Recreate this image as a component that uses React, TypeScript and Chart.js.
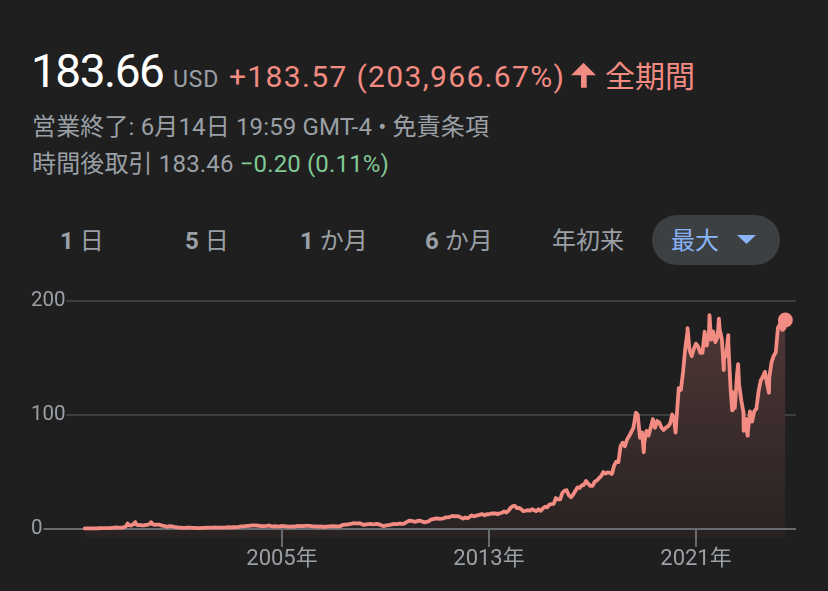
import React, { useEffect, useRef } from "react";
import { Chart, registerables } from "chart.js";

Chart.register(...registerables);

// ---- data (split-adjusted closes) ----
const dates: string[] = [
  "1997-05-15", "1997-06", "1997-07", "1997-08", "1997-09", "1997-10", "1997-11", "1997-12",
  "1998-01", "1998-02", "1998-03", "1998-04", "1998-05", "1998-06", "1998-07", "1998-08", "1998-09", "1998-10", "1998-11", "1998-12",
  "1999-01-11", "1999-01", "1999-02", "1999-03", "1999-04-26", "1999-04", "1999-05", "1999-06", "1999-07", "1999-08", "1999-09", "1999-10", "1999-11", "1999-12-09", "1999-12",
  "2000-01", "2000-02", "2000-03", "2000-04", "2000-05", "2000-06", "2000-07", "2000-08", "2000-09", "2000-10", "2000-11", "2000-12",
  "2001-01", "2001-02", "2001-03", "2001-04", "2001-05", "2001-06", "2001-07", "2001-08", "2001-09", "2001-10", "2001-11", "2001-12",
  "2002-01", "2002-02", "2002-03", "2002-04", "2002-05", "2002-06", "2002-07", "2002-08", "2002-09", "2002-10", "2002-11", "2002-12",
  "2003-01", "2003-02", "2003-03", "2003-04", "2003-05", "2003-06", "2003-07", "2003-08", "2003-09", "2003-10", "2003-11", "2003-12",
  "2004-01", "2004-02", "2004-03", "2004-04", "2004-05", "2004-06", "2004-07", "2004-08", "2004-09", "2004-10", "2004-11", "2004-12",
  "2005-01", "2005-02", "2005-03", "2005-04", "2005-05", "2005-06", "2005-07", "2005-08", "2005-09", "2005-10", "2005-11", "2005-12",
  "2006-01", "2006-02", "2006-03", "2006-04", "2006-05", "2006-06", "2006-07", "2006-08", "2006-09", "2006-10", "2006-11", "2006-12",
  "2007-01", "2007-02", "2007-03", "2007-04", "2007-05", "2007-06", "2007-07", "2007-08", "2007-09", "2007-10", "2007-11", "2007-12",
  "2008-01", "2008-02", "2008-03", "2008-04", "2008-05", "2008-06", "2008-07", "2008-08", "2008-09", "2008-10", "2008-11", "2008-12",
  "2009-01", "2009-02", "2009-03", "2009-04", "2009-05", "2009-06", "2009-07", "2009-08", "2009-09", "2009-10", "2009-11", "2009-12",
  "2010-01", "2010-02", "2010-03", "2010-04", "2010-05", "2010-06", "2010-07", "2010-08", "2010-09", "2010-10", "2010-11", "2010-12",
  "2011-01", "2011-02", "2011-03", "2011-04", "2011-05", "2011-06", "2011-07", "2011-08", "2011-09", "2011-10", "2011-11", "2011-12",
  "2012-01", "2012-02", "2012-03", "2012-04", "2012-05", "2012-06", "2012-07", "2012-08", "2012-09", "2012-10", "2012-11", "2012-12",
  "2013-01", "2013-02", "2013-03", "2013-04", "2013-05", "2013-06", "2013-07", "2013-08", "2013-09", "2013-10", "2013-11", "2013-12",
  "2014-01", "2014-02", "2014-03", "2014-04", "2014-05", "2014-06", "2014-07", "2014-08", "2014-09", "2014-10", "2014-11", "2014-12",
  "2015-01", "2015-02", "2015-03", "2015-04", "2015-05", "2015-06", "2015-07", "2015-08", "2015-09", "2015-10", "2015-11", "2015-12",
  "2016-01", "2016-02", "2016-03", "2016-04", "2016-05", "2016-06", "2016-07", "2016-08", "2016-09", "2016-10", "2016-11", "2016-12",
  "2017-01", "2017-02", "2017-03", "2017-04", "2017-05", "2017-06", "2017-07", "2017-08", "2017-09", "2017-10", "2017-11", "2017-12",
  "2018-01", "2018-02", "2018-03", "2018-04", "2018-05", "2018-06", "2018-07", "2018-08", "2018-09-04", "2018-09", "2018-10", "2018-11", "2018-12-24", "2018-12",
  "2019-01", "2019-02", "2019-03", "2019-04", "2019-05", "2019-06", "2019-07", "2019-08", "2019-09", "2019-10", "2019-11", "2019-12",
  "2020-01", "2020-02", "2020-03-16", "2020-03", "2020-04", "2020-05", "2020-06", "2020-07", "2020-08", "2020-09-02", "2020-09", "2020-10", "2020-11", "2020-12",
  "2021-01", "2021-02", "2021-03", "2021-04", "2021-05", "2021-06", "2021-07-08", "2021-07", "2021-08", "2021-09", "2021-10", "2021-11-19", "2021-11", "2021-12",
  "2022-01-27", "2022-01", "2022-02", "2022-03-29", "2022-03", "2022-04", "2022-05-24", "2022-05", "2022-06", "2022-07", "2022-08-16", "2022-08", "2022-09", "2022-10", "2022-11-03", "2022-11", "2022-12-28", "2022-12",
  "2023-01", "2023-02", "2023-03", "2023-04", "2023-05", "2023-06", "2023-07", "2023-08", "2023-09", "2023-10-26", "2023-10", "2023-11", "2023-12",
  "2024-01", "2024-02", "2024-03", "2024-04", "2024-05", "2024-06-14",
];

const prices: number[] = [
  0.075, 0.08, 0.12, 0.11, 0.18, 0.16, 0.2, 0.25,
  0.25, 0.3, 0.36, 0.4, 0.42, 0.8, 0.98, 0.7, 0.85, 0.8, 1.25, 2.7,
  4.4, 2.9, 2.6, 3.6, 5.5, 4.3, 3.0, 3.1, 2.8, 2.7, 3.2, 3.5, 4.3, 5.6, 3.8,
  3.2, 3.4, 3.4, 2.8, 2.4, 1.8, 1.5, 2.1, 1.9, 1.4, 1.2, 0.78,
  0.86, 0.5, 0.51, 0.79, 0.84, 0.71, 0.64, 0.45, 0.3, 0.35, 0.47, 0.54,
  0.72, 0.72, 0.72, 0.84, 0.9, 0.81, 0.73, 0.74, 0.8, 0.97, 1.2, 0.94,
  1.1, 1.1, 1.3, 1.43, 1.8, 1.81, 2.1, 2.3, 2.42, 2.72, 2.7, 2.63,
  2.52, 2.16, 2.16, 2.18, 2.4, 2.72, 1.94, 1.9, 2.04, 1.7, 1.96, 2.21,
  2.16, 1.76, 1.71, 1.64, 1.78, 1.65, 2.24, 2.13, 2.27, 2.0, 2.41, 2.36,
  2.24, 1.88, 1.83, 1.76, 1.73, 1.93, 1.35, 1.53, 1.61, 1.91, 2.02, 1.97,
  1.87, 1.96, 1.99, 3.06, 3.47, 3.42, 3.92, 3.99, 4.66, 4.47, 4.55, 4.63,
  3.89, 3.22, 3.57, 3.94, 4.09, 3.67, 3.83, 4.04, 3.64, 2.86, 2.13, 2.56,
  2.94, 3.23, 3.67, 4.04, 3.9, 4.18, 4.28, 4.07, 4.67, 5.94, 6.81, 6.73,
  6.27, 5.91, 6.79, 6.85, 6.25, 5.46, 5.89, 6.24, 7.85, 8.24, 8.75, 9.0,
  8.49, 8.68, 9.01, 9.82, 9.83, 10.22, 11.13, 10.78, 10.81, 10.67, 9.6, 8.66,
  9.71, 8.97, 10.13, 11.6, 10.64, 11.42, 11.67, 12.39, 12.72, 11.64, 12.61, 12.54,
  13.27, 13.21, 13.32, 12.67, 13.45, 13.88, 15.07, 14.03, 15.63, 18.2, 19.66, 19.94,
  17.94, 18.12, 16.83, 15.21, 15.63, 16.24, 15.62, 16.95, 16.12, 15.26, 16.92, 15.52,
  17.73, 19.23, 18.6, 21.09, 21.46, 21.7, 26.81, 25.72, 25.59, 31.27, 33.27, 33.79,
  29.35, 27.59, 29.68, 32.98, 36.14, 35.78, 37.94, 38.46, 41.86, 39.49, 37.53, 37.49,
  41.17, 42.25, 44.33, 46.13, 49.7, 48.4, 49.39, 49.01, 48.07, 55.26, 58.84, 58.47,
  72.54, 75.62, 72.37, 78.31, 81.48, 85.0, 88.87, 100.64, 101.98, 100.15, 79.9, 84.51, 67.2, 75.1,
  85.94, 81.99, 89.04, 96.33, 88.75, 94.68, 93.34, 88.81, 86.8, 88.83, 90.04, 92.39,
  100.44, 94.19, 84.5, 97.49, 123.7, 122.12, 137.94, 158.23, 172.55, 176.6, 157.44, 151.81, 158.4, 162.85,
  160.31, 154.65, 154.7, 173.37, 161.15, 172.01, 188.0, 166.38, 173.54, 164.25, 168.62, 184.8, 175.35, 166.72,
  139.6, 149.57, 153.56, 170.4, 162.99, 124.28, 104.1, 120.21, 106.21, 134.95, 144.8, 126.77, 113.0, 102.44, 86.1, 96.54, 81.8, 84.0,
  103.13, 94.23, 103.29, 105.45, 120.58, 130.36, 133.68, 138.01, 127.12, 119.6, 133.09, 146.09, 151.94,
  155.2, 176.76, 180.38, 175.0, 176.44, 183.66,
];

const yTicks: number[] = [0, 100, 200];
const xTicks: number[] = [2005, 2013, 2021];
const xTickSuffix = "年";

const tabLabels: { num: string; text: string }[] = [
  { num: "1", text: " 日" },
  { num: "5", text: " 日" },
  { num: "1", text: " か月" },
  { num: "6", text: " か月" },
  { num: "", text: "年初来" },
];

// ---- styling constants ----
const BG = "#1f1f1f";
const RED = "#f28b82";
const GRAY = "#9aa0a6";
const GREEN = "#81c995";
const BLUE = "#8ab4f8";
const FONT = 'Roboto, "Noto Sans CJK JP", sans-serif';

function toYear(s: string): number {
  const p = s.split("-").map(Number);
  if (p.length === 2) return p[0] + p[1] / 12;
  return p[0] + (p[1] - 1) / 12 + p[2] / 365;
}

const axesPlugin = {
  id: "gfAxes",
  beforeDatasetsDraw(chart: any) {
    const { ctx, chartArea, scales } = chart;
    ctx.save();
    ctx.font = `20.5px ${FONT}`;
    ctx.textBaseline = "middle";
    ctx.textAlign = "left";
    for (const v of yTicks) {
      const y = Math.round(scales.y.getPixelForValue(v));
      ctx.fillStyle = GRAY;
      ctx.fillText(String(v), 31, y);
      if (v !== 0) {
        const w = ctx.measureText(String(v)).width;
        ctx.strokeStyle = "#3c4043";
        ctx.lineWidth = 2;
        ctx.beginPath();
        ctx.moveTo(31 + w + 1, y);
        ctx.lineTo(chartArea.right, y);
        ctx.stroke();
      }
    }
    ctx.restore();
  },
  beforeDatasetDraw(chart: any) {
    const { ctx, chartArea, scales } = chart;
    ctx.save();
    ctx.font = `20.5px ${FONT}`;
    const w0 = ctx.measureText(String(yTicks[0])).width;
    const y0 = Math.round(scales.y.getPixelForValue(0));
    ctx.strokeStyle = "#686b6f";
    ctx.lineWidth = 2;
    ctx.beginPath();
    ctx.moveTo(31 + w0 + 1, y0);
    ctx.lineTo(chartArea.right, y0);
    ctx.stroke();
    ctx.font = `22px ${FONT}`;
    ctx.textAlign = "center";
    ctx.textBaseline = "middle";
    for (const t of xTicks) {
      const x = Math.round(scales.x.getPixelForValue(t));
      ctx.beginPath();
      ctx.moveTo(x, y0);
      ctx.lineTo(x, y0 + 18);
      ctx.stroke();
      ctx.fillStyle = GRAY;
      ctx.fillText(`${t}${xTickSuffix}`, x, y0 + 30);
    }
    ctx.restore();
  },
};

function PriceChart() {
  const ref = useRef<HTMLCanvasElement | null>(null);
  useEffect(() => {
    if (!ref.current) return;
    const points = dates.map((d, i) => ({ x: toYear(d), y: prices[i] }));
    const last = points.length - 1;
    const chart = new Chart(ref.current, {
      type: "line",
      data: {
        datasets: [
          {
            data: points,
            borderColor: RED,
            borderWidth: 3.8,
            borderJoinStyle: "round",
            borderCapStyle: "round",
            tension: 0,
            fill: "start",
            backgroundColor: (c: any) => {
              const a = c.chart.chartArea;
              if (!a) return "transparent";
              const g = c.chart.ctx.createLinearGradient(0, a.top, 0, a.bottom);
              g.addColorStop(0, "#533a38");
              g.addColorStop(1, "#282222");
              return g;
            },
            pointRadius: (c: any) => (c.dataIndex === last ? 7.5 : 0),
            pointBackgroundColor: RED,
            pointBorderWidth: 0,
            pointHoverRadius: 0,
          },
        ],
      },
      options: {
        animation: false,
        responsive: false,
        maintainAspectRatio: false,
        events: [],
        layout: { padding: { left: 32, right: 32, top: 10, bottom: 52.5 } },
        scales: {
          x: { type: "linear", min: 1995.338, max: 2024.865, display: false },
          y: { type: "linear", min: -8.81, max: 210.13, display: false },
        },
        plugins: { legend: { display: false }, tooltip: { enabled: false } },
      },
      plugins: [axesPlugin],
    } as any);
    return () => chart.destroy();
  }, []);
  return (
    <canvas
      ref={ref}
      width={828}
      height={311}
      style={{ position: "absolute", left: 0, top: 280, width: 828, height: 311 }}
    />
  );
}

const abs = (left: number, top: number, size: number, color: string, extra: any = {}) => ({
  position: "absolute" as const,
  left,
  top,
  fontSize: size,
  color,
  lineHeight: 1,
  whiteSpace: "nowrap" as const,
  fontFamily: FONT,
  ...extra,
});

const tabLefts = [60, 185, 300, 425, 552];

export default function App() {
  return (
    <div
      style={{
        position: "absolute",
        left: 0,
        top: 0,
        width: 828,
        height: 591,
        background: BG,
        overflow: "hidden",
        fontFamily: FONT,
      }}
    >
      <div style={abs(31, 48, 46, "#ffffff", { letterSpacing: -1.5 })}>183.66</div>
      <div style={abs(173, 68, 23, GRAY, { letterSpacing: 0.8 })}>USD</div>
      <div style={abs(229, 62, 30, RED, { letterSpacing: 1.35 })}>+183.57 (203,966.67%)</div>
      <svg width={25} height={26} style={{ position: "absolute", left: 571, top: 62 }}>
        <polygon
          fill={RED}
          points="12.5,0.7 25,13.3 15.7,13.3 15.7,25.7 10,25.7 10,13.3 0,13.3"
        />
      </svg>
      <div style={abs(605, 62, 30, RED)}>全期間</div>

      <div style={abs(32, 115, 24, GRAY, { letterSpacing: 0.15 })}>
        営業終了: 6月14日 19:59 GMT-4 • 免責条項
      </div>
      <div style={abs(32, 152, 24, GRAY, { letterSpacing: 0.15 })}>
        時間後取引 183.46 <span style={{ color: GREEN }}>−0.20 (0.11%)</span>
      </div>

      {tabLabels.map((t, i) => (
        <div key={i} style={abs(tabLefts[i], 229, 24, GRAY)}>
          {t.num && <span style={{ fontWeight: 700 }}>{t.num}</span>}
          {t.text}
        </div>
      ))}
      <div
        style={{
          position: "absolute",
          left: 652,
          top: 215,
          width: 128,
          height: 50,
          borderRadius: 25,
          background: "#3c4043",
        }}
      />
      <div style={abs(671, 229, 24, BLUE)}>最大</div>
      <svg width={19} height={9} style={{ position: "absolute", left: 737, top: 235 }}>
        <polygon points="0,0 19,0 9.5,9" fill={BLUE} />
      </svg>

      <PriceChart />
    </div>
  );
}
